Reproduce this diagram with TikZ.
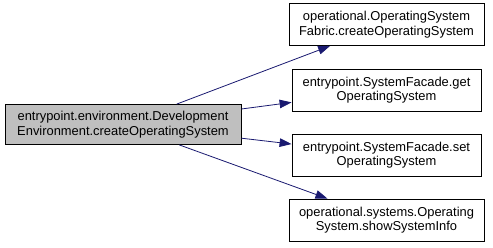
\documentclass[tikz,border=0pt]{standalone}
\usepackage{fontspec}
\setmainfont{Liberation Sans}
\usepackage{xcolor}
\usepackage{tikz}
\usetikzlibrary{calc, positioning, arrows.meta}

\definecolor{edgeblue}{RGB}{25,25,112}
\definecolor{callergray}{RGB}{191,191,191}

\begin{document}
\begin{tikzpicture}[x=1pt, y=-1pt,
    every node/.style={font=\fontsize{12.9}{14.5}\selectfont, align=center, inner sep=0pt},
    fn/.style={draw=black, line width=0.8pt, fill=white, minimum height=42pt},
    call/.style={draw=edgeblue, line width=0.8pt, -{Triangle[length=12pt,width=8.5pt]}}]
    \useasboundingbox (0,0) rectangle (493,248);
    % caller
    \node[fn, fill=callergray, minimum width=236pt, minimum height=40pt] (caller) at (123,124.5)
        {entrypoint.environment.Development\\Environment.createOperatingSystem};
    % callees
    \foreach \n/\y/\w/\t in {
        fabric/24.5/195/{operational.OperatingSystem\\Fabric.createOperatingSystem},
        getos/90/189/{entrypoint.SystemFacade.get\\OperatingSystem},
        setos/155/189/{entrypoint.SystemFacade.set\\OperatingSystem},
        showinfo/220/195/{operational.systems.Operating\\System.showSystemInfo}} {
        \node[fn, minimum width=\w pt] (\n) at (386.5,\y) {\t};
    }
    \foreach \n in {fabric,getos,setos,showinfo} {
        \draw[call] (caller) -- (\n);
    }
\end{tikzpicture}
\end{document}
